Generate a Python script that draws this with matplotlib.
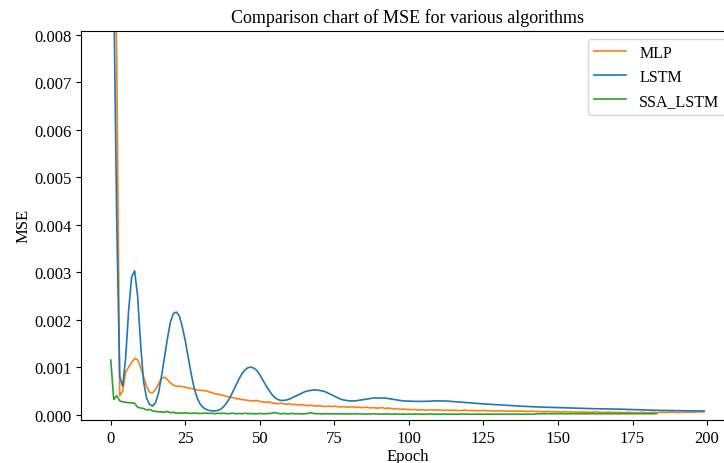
import matplotlib
matplotlib.use("Agg")
import matplotlib.pyplot as plt
import numpy as np

plt.rcParams['font.family'] = ['Liberation Serif', 'DejaVu Serif']

# MSE valors llegits del grafic (unitats de 1e-4)
mlp = [200, 120, 75, 4, 5, 9, 10, 11, 11.8, 11.6,
       10, 8, 6, 4.7, 4.6, 5.3, 6.5, 7.6, 7.9, 7.4,
       6.7, 6.2, 6.0, 6.0, 5.9, 5.8, 5.6, 5.5, 5.4, 5.2,
       5.1, 5.1, 5.0, 4.8, 4.6, 4.4, 4.3, 4.2, 4.0, 3.8,
       3.7, 3.6, 3.4, 3.3, 3.2, 3.1, 3.0, 2.9, 2.9, 3.0,
       2.8, 2.7, 2.6, 2.7, 2.5, 2.4, 2.3, 2.4, 2.3, 2.2,
       2.3, 2.1, 2.2, 2.0, 2.1, 2.0, 1.9, 2.0, 1.9, 1.8,
       1.9, 1.8, 1.7, 1.8, 1.7, 1.8, 1.7, 1.6, 1.7, 1.6,
       1.6, 1.7, 1.5, 1.6, 1.5, 1.5, 1.6, 1.4, 1.5, 1.4,
       1.4, 1.5, 1.3, 1.4, 1.3, 1.2, 1.3, 1.1, 1.2, 1.1,
       1.1, 1.05, 1.1, 1.0, 1.05, 1.0, 0.95, 1.0, 1.05, 0.95,
       1.0, 0.95, 0.9, 0.95, 0.9, 0.95, 0.9, 0.85, 0.9, 0.95,
       0.85, 0.9, 0.85, 0.8, 0.85, 0.9, 0.8, 0.85, 0.8, 0.75,
       0.8, 0.85, 0.75, 0.8, 0.7, 0.75, 0.8, 0.7, 0.75, 0.7,
       0.65, 0.75, 0.7, 0.65, 0.7, 0.6, 0.65, 0.7, 0.6, 0.65,
       0.6, 0.55, 0.65, 0.6, 0.55, 0.6, 0.5, 0.55, 0.6, 0.5,
       0.55, 0.5, 0.55, 0.6, 0.5, 0.45, 0.5, 0.55, 0.45, 0.5,
       0.45, 0.5, 0.4, 0.45, 0.5, 0.4, 0.45, 0.4, 0.5, 0.45,
       0.4, 0.45, 0.5, 0.4, 0.45, 0.5, 0.45, 0.5, 0.55, 0.5,
       0.45, 0.5, 0.55, 0.5, 0.55, 0.5, 0.55, 0.6, 0.55, 0.6]

lstm = [200, 90, 41, 8, 6, 12, 22, 29, 30.3, 25,
        15, 7, 3.5, 2.2, 1.8, 2.5, 4.5, 8, 12, 16,
        19.5, 21.3, 21.6, 20.8, 18.5, 15.5, 12, 8.5, 5.5, 3.5,
        2.2, 1.5, 1.1, 0.9, 0.8, 0.8, 0.9, 1.2, 1.8, 2.6,
        3.6, 4.9, 6.2, 7.5, 8.6, 9.4, 9.9, 10.0, 9.8, 9.3,
        8.4, 7.3, 6.2, 5.2, 4.3, 3.6, 3.2, 3.0, 3.0, 3.1,
        3.3, 3.6, 3.9, 4.2, 4.5, 4.8, 5.0, 5.1, 5.2, 5.2,
        5.1, 5.0, 4.8, 4.5, 4.2, 3.9, 3.6, 3.3, 3.1, 3.0,
        2.9, 2.9, 2.9, 3.0, 3.1, 3.2, 3.3, 3.4, 3.5, 3.5,
        3.5, 3.5, 3.5, 3.4, 3.3, 3.2, 3.1, 3.0, 2.9, 2.87,
        2.85, 2.82, 2.8, 2.79, 2.79, 2.8, 2.82, 2.85, 2.88, 2.9,
        2.9, 2.9, 2.88, 2.85, 2.8, 2.75, 2.7, 2.65, 2.6, 2.55,
        2.5, 2.45, 2.4, 2.35, 2.3, 2.27, 2.23, 2.2, 2.16, 2.12,
        2.08, 2.04, 2.0, 1.96, 1.92, 1.88, 1.84, 1.8, 1.77, 1.74,
        1.71, 1.68, 1.65, 1.62, 1.6, 1.58, 1.56, 1.54, 1.52, 1.5,
        1.48, 1.46, 1.44, 1.42, 1.4, 1.38, 1.36, 1.34, 1.32, 1.3,
        1.28, 1.27, 1.26, 1.25, 1.24, 1.23, 1.22, 1.21, 1.2, 1.19,
        1.17, 1.15, 1.13, 1.11, 1.09, 1.07, 1.05, 1.03, 1.01, 0.99,
        0.97, 0.95, 0.93, 0.91, 0.9, 0.89, 0.88, 0.87, 0.86, 0.85,
        0.84, 0.83, 0.82, 0.81, 0.8, 0.8, 0.79, 0.79, 0.78, 0.78]

ssa_lstm = [11.5, 3.2, 4.0, 2.9, 2.7, 2.6, 2.5, 2.5, 2.4, 1.6,
            1.4, 1.3, 1.0, 1.1, 0.8, 0.7, 0.6, 0.6, 0.5, 0.7,
            0.4, 0.5, 0.3, 0.4, 0.3, 0.4, 0.3, 0.25, 0.35, 0.3,
            0.25, 0.3, 0.35, 0.25, 0.3, 0.2, 0.3, 0.25, 0.3, 0.2,
            0.25, 0.3, 0.2, 0.25, 0.2, 0.3, 0.2, 0.25, 0.2, 0.2,
            0.25, 0.2, 0.2, 0.25, 0.3, 0.45, 0.3, 0.2, 0.25, 0.2,
            0.2, 0.25, 0.2, 0.2, 0.15, 0.2, 0.25, 0.4, 0.25, 0.2,
            0.2, 0.15, 0.2, 0.2, 0.15, 0.2, 0.15, 0.2, 0.15, 0.15,
            0.2, 0.15, 0.15, 0.2, 0.15, 0.15, 0.1, 0.15, 0.2, 0.15,
            0.15, 0.1, 0.15, 0.15, 0.1, 0.15, 0.1, 0.15, 0.1, 0.1,
            0.15, 0.1, 0.1, 0.15, 0.1, 0.1, 0.1, 0.15, 0.1, 0.1,
            0.1, 0.1, 0.15, 0.1, 0.1, 0.1, 0.1, 0.1, 0.15, 0.1,
            0.1, 0.1, 0.1, 0.1, 0.1, 0.1, 0.1, 0.1, 0.1, 0.1,
            0.1, 0.1, 0.1, 0.1, 0.1, 0.1, 0.1, 0.1, 0.1, 0.1,
            0.1, 0.1, 0.1, 0.2, 0.2, 0.2, 0.2, 0.2, 0.2, 0.2,
            0.2, 0.2, 0.2, 0.2, 0.2, 0.2, 0.2, 0.2, 0.2, 0.2,
            0.2, 0.2, 0.2, 0.2, 0.2, 0.2, 0.2, 0.2, 0.2, 0.2,
            0.2, 0.2, 0.2, 0.2, 0.2, 0.2, 0.2, 0.2, 0.2, 0.2,
            0.2, 0.2, 0.2, 0.2]

escala = 1e-4

fig = plt.figure(figsize=(7.24, 4.64), dpi=100)
# l'eix continua una mica mes enlla del marge dret (figura retallada)
ax = fig.add_axes([0.112, 0.0927, 0.9015, 0.839])

ax.plot(np.arange(len(mlp)), np.array(mlp) * escala, color='#ff7f0e', lw=1.2, label='MLP')
ax.plot(np.arange(len(lstm)), np.array(lstm) * escala, color='#1f77b4', lw=1.2, label='LSTM')
ax.plot(np.arange(len(ssa_lstm)), np.array(ssa_lstm) * escala, color='#2ca02c', lw=1.2, label='SSA_LSTM')

ax.set_xlim(-9.95, 208.95)
ax.set_ylim(-0.000112, 0.008084)
ax.set_title('Comparison chart of MSE for various algorithms', fontsize=13)
ax.set_xlabel('Epoch', fontsize=12, labelpad=2)
ax.set_ylabel('MSE', fontsize=12, labelpad=2)
ax.tick_params(labelsize=12)
ax.legend(loc='upper right', fontsize=11.5)

fig.savefig('out.png', dpi=100)
